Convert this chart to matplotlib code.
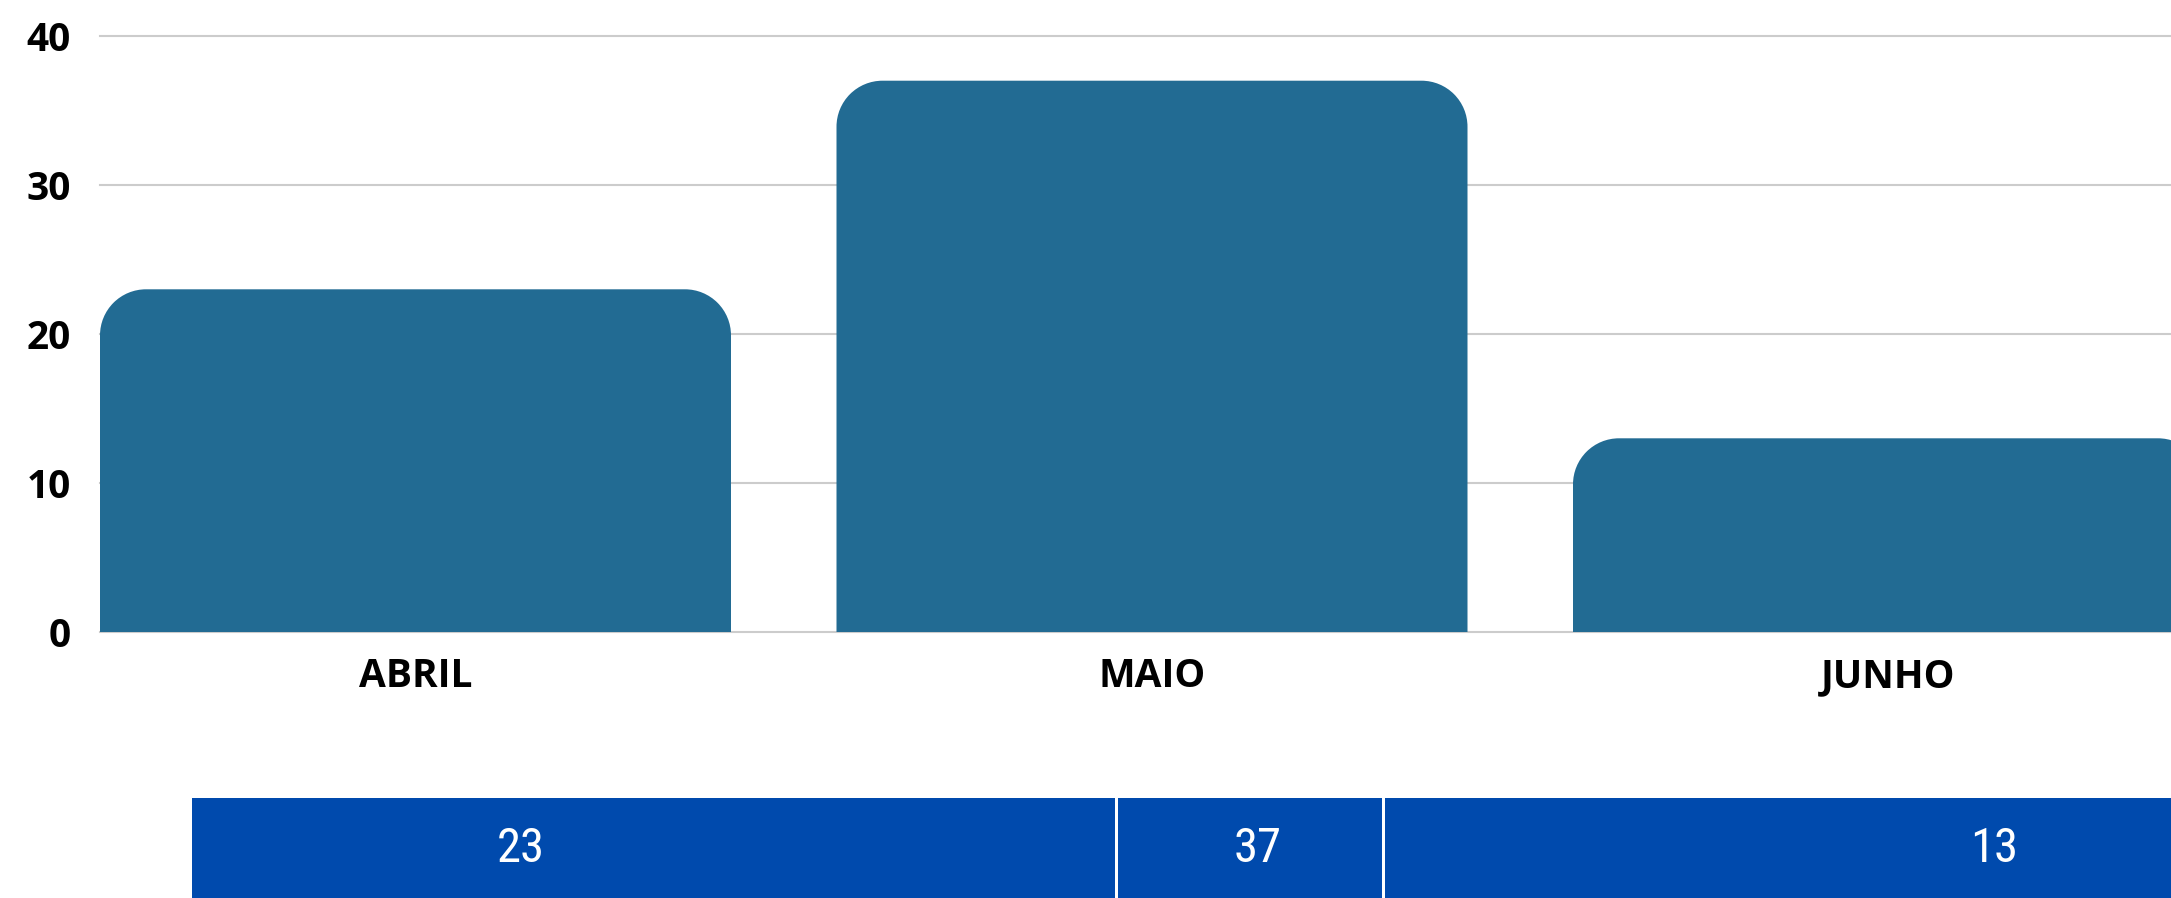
import matplotlib
matplotlib.use("Agg")
import matplotlib.pyplot as plt
from matplotlib import font_manager
from matplotlib.path import Path
from matplotlib.patches import PathPatch, Rectangle
from matplotlib.transforms import Affine2D, blended_transform_factory

# data
months = ["ABRIL", "MAIO", "JUNHO"]
values = [23, 37, 13]
table_values = [23, 37, 13]
y_ticks = [0, 10, 20, 30, 40]

BAR_COLOR = "#226b93"
TABLE_COLOR = "#004aad"
W, H = 2171, 898

# narrow font for the table strip, if one is around
installed = {f.name for f in font_manager.fontManager.ttflist}
narrow = [n for n in ["Liberation Sans Narrow", "Roboto Condensed", "DejaVu Sans"] if n in installed]

fig = plt.figure(figsize=(W / 100, H / 100), dpi=100)
ax = fig.add_axes([100 / W, (H - 632) / H, (W - 100) / W, (632 - 36) / H])

bar_w = 631 / 736.5
ax.set_xlim(-bar_w / 2, (W - 415.5) / 736.5)
ax.set_ylim(0, 40)

# pixel size of one data unit, used to keep the corners round
px_x = ax.bbox.width / (ax.get_xlim()[1] - ax.get_xlim()[0])
px_y = ax.bbox.height / 40
radius = 46


def rounded_top_bar(x0, width, height):
    rx, ry = radius / px_x, radius / px_y
    arc_r = Path.arc(0, 90)
    arc_l = Path.arc(90, 180)
    right = Affine2D().scale(rx, ry).translate(x0 + width - rx, height - ry).transform(arc_r.vertices)
    left = Affine2D().scale(rx, ry).translate(x0 + rx, height - ry).transform(arc_l.vertices)
    verts = [(x0, 0), (x0 + width, 0), (x0 + width, height - ry)]
    verts += [tuple(v) for v in right]
    verts += [tuple(v) for v in left]
    verts += [(x0, 0), (x0, 0)]
    codes = [Path.MOVETO] + [Path.LINETO] * 2
    codes += [Path.LINETO] + [Path.CURVE4] * (len(right) - 1)
    codes += [Path.LINETO] + [Path.CURVE4] * (len(left) - 1)
    codes += [Path.LINETO, Path.CLOSEPOLY]
    return Path(verts, codes)


for i, v in enumerate(values):
    ax.add_patch(PathPatch(rounded_top_bar(i - bar_w / 2, bar_w, v),
                           facecolor=BAR_COLOR, edgecolor="none", zorder=2))

for t in y_ticks:
    ax.axhline(t, color="#cccccc", lw=1.5, zorder=1, clip_on=False)

for s in ax.spines.values():
    s.set_visible(False)

ax.set_yticks(y_ticks)
ax.set_xticks(range(len(months)))
ax.set_xticklabels(months)
ax.tick_params(length=0)
ax.tick_params(axis="y", pad=21)
ax.tick_params(axis="x", pad=18)
for lab in ax.get_xticklabels() + ax.get_yticklabels():
    lab.set_fontfamily(["Open Sans", "DejaVu Sans"])
    lab.set_fontweight("bold")
    lab.set_fontsize(28)
    lab.set_color("black")

# table strip at the bottom
cell_edges = [192, 1116, 1383, W + 10]
for a, b in zip(cell_edges[:-1], cell_edges[1:]):
    fig.patches.append(Rectangle((a / W, 0), (b - a) / W, (H - 798) / H,
                                 transform=fig.transFigure, facecolor=TABLE_COLOR,
                                 edgecolor="none"))
for x in cell_edges[1:-1]:
    fig.patches.append(Rectangle(((x - 1) / W, 0), 3 / W, (H - 798) / H,
                                 transform=fig.transFigure, facecolor="white",
                                 edgecolor="none", zorder=3))

trans = blended_transform_factory(ax.transData, fig.transFigure)
for i, v in enumerate(table_values):
    fig.text(i + 105.5 / 736.5, (H - 849) / H, str(v), transform=trans,
             ha="center", va="center", color="white", fontsize=35,
             family=narrow + ["DejaVu Sans"], fontstretch="condensed")

fig.savefig("out.png", dpi=100)
